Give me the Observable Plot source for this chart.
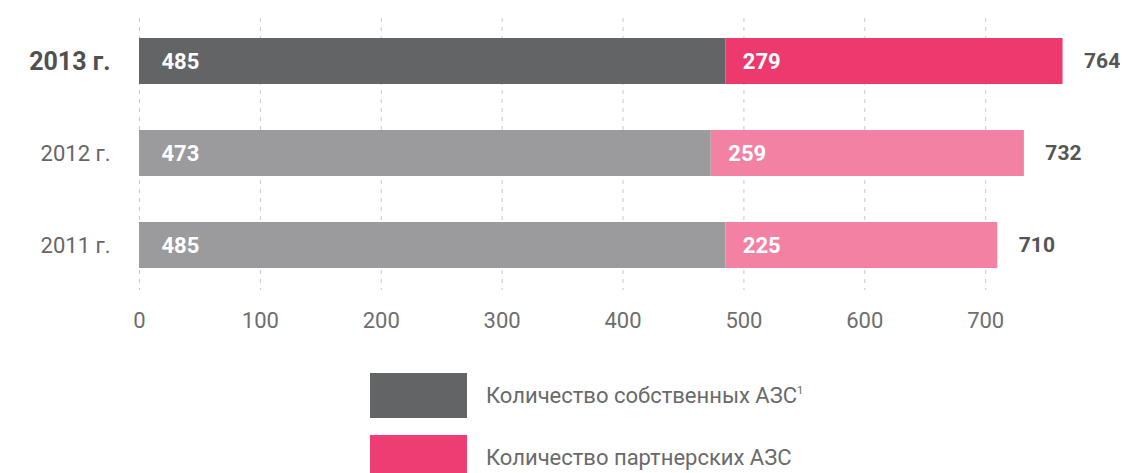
<!DOCTYPE html>
<html>
<head>
<meta charset="utf-8">
<script src="https://cdn.jsdelivr.net/npm/d3@7"></script>
<script src="https://cdn.jsdelivr.net/npm/@observablehq/plot@0.6"></script>
<style>
  body { margin: 0; background: #fff; font-family: Roboto, "Noto Sans", sans-serif; }
  #chart { width: 1123px; height: 473px; position: relative; overflow: hidden; }
  .legend { position: absolute; left: 370px; display: flex; align-items: center; }
  .sw { width: 97px; height: 45px; }
  .lt { margin-left: 19px; font-size: 22px; color: #6a6a6a; font-weight: 400; }
  .lt sup { font-size: 11px; vertical-align: 9px; }
</style>
</head>
<body>
<div id="chart"></div>
<script>
const years = ["2013 г.", "2012 г.", "2011 г."];
const ownStations = [485, 473, 485];
const partnerStations = [279, 259, 225];
const totals = [764, 732, 710];
const xTicks = [0, 100, 200, 300, 400, 500, 600, 700];
const seriesNames = ["Количество собственных АЗС", "Количество партнерских АЗС"];

const ownDark = "#636466", ownLight = "#9b9b9d";
const partDark = "#ec3a6e", partLight = "#f281a4";

const rows = [];
years.forEach((y, i) => {
  rows.push({year: y, series: "own", x1: 0, x2: ownStations[i], value: ownStations[i], current: i === 0});
  rows.push({year: y, series: "partner", x1: ownStations[i], x2: ownStations[i] + partnerStations[i], value: partnerStations[i], current: i === 0});
});
const totalRows = years.map((y, i) => ({year: y, total: totals[i]}));

const fillOf = d => d.series === "own" ? (d.current ? ownDark : ownLight) : (d.current ? partDark : partLight);

const plot = Plot.plot({
  width: 1123,
  height: 350,
  marginLeft: 139,
  marginRight: 0,
  marginTop: 18,
  marginBottom: 60,
  style: {fontFamily: "Roboto, sans-serif", background: "transparent", overflow: "visible"},
  x: {domain: [0, 814], axis: null},
  y: {domain: years, range: [14, 292], paddingInner: 0.5, paddingOuter: 0.25, axis: null},
  marks: [
    Plot.ruleX(xTicks, {stroke: "#c8c8c8", strokeWidth: 1, strokeDasharray: "4,5"}),
    Plot.barX(rows, {y: "year", x1: "x1", x2: "x2", fill: fillOf}),
    Plot.text(rows.filter(d => d.series === "own"), {y: "year", x: "x1", text: d => String(d.value), dx: 22, textAnchor: "start", fill: "white", fontWeight: 700, fontSize: 22}),
    Plot.text(rows.filter(d => d.series === "partner"), {y: "year", x: "x1", text: d => String(d.value), dx: 17, textAnchor: "start", fill: "white", fontWeight: 700, fontSize: 22}),
    Plot.text(totalRows, {y: "year", x: "total", text: d => String(d.total), dx: 21, textAnchor: "start", fill: "#555", fontWeight: 700, fontSize: 21}),
    Plot.text(years.slice(0, 1), {y: d => d, frameAnchor: "left", text: d => d, dx: -29, textAnchor: "end", fill: "#505050", fontWeight: 700, fontSize: 25}),
    Plot.text(years.slice(1), {y: d => d, frameAnchor: "left", text: d => d, dx: -29, textAnchor: "end", fill: "#666", fontWeight: 400, fontSize: 22}),
    Plot.text(xTicks, {x: d => d, frameAnchor: "bottom", text: d => String(d), dy: 37, fill: "#6e6e6e", fontWeight: 400, fontSize: 22})
  ]
});
document.getElementById("chart").appendChild(plot);

const legendItems = [
  {name: seriesNames[0], color: ownDark, top: 373, sup: "1"},
  {name: seriesNames[1], color: "#ee3d72", top: 435, sup: ""}
];
legendItems.forEach(it => {
  const div = document.createElement("div");
  div.className = "legend";
  div.style.top = it.top + "px";
  const sw = document.createElement("div");
  sw.className = "sw";
  sw.style.background = it.color;
  const t = document.createElement("div");
  t.className = "lt";
  t.textContent = it.name;
  if (it.sup) { const s = document.createElement("sup"); s.textContent = it.sup; t.appendChild(s); }
  div.appendChild(sw); div.appendChild(t);
  document.getElementById("chart").appendChild(div);
});
</script>
</body>
</html>
